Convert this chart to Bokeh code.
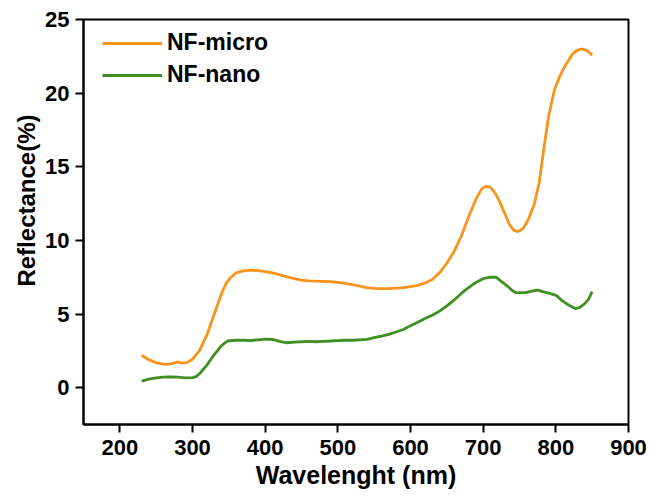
from bokeh.plotting import figure
from bokeh.models import Legend, LegendItem, FixedTicker, Range1d, Title
from bokeh.embed import file_html
from bokeh.resources import INLINE

# ---- data ----
micro_wl = [230, 240, 250, 261, 270, 280, 286, 293, 300, 310, 320, 330, 340, 346, 352, 360,
            370, 380, 390, 400, 410, 420, 430, 440, 450, 460, 470, 480, 490, 500,
            510, 520, 530, 540, 550, 560, 570, 580, 590, 600, 610, 620, 630, 640,
            650, 660, 670, 680, 690, 698, 704, 710, 716, 722, 730, 736, 742, 748,
            755, 762, 770, 777, 784, 790, 798, 805, 811, 817, 823, 829, 835, 843, 850]
micro_val = [2.2, 1.9, 1.7, 1.59, 1.62, 1.75, 1.66, 1.72, 1.93, 2.55, 3.6, 5.0, 6.4, 7.06, 7.45, 7.8,
             7.93, 7.98, 7.95, 7.88, 7.8, 7.67, 7.53, 7.4, 7.3, 7.25, 7.23, 7.22, 7.2, 7.15,
             7.08, 7.0, 6.9, 6.8, 6.74, 6.72, 6.73, 6.76, 6.8, 6.86, 6.95, 7.1, 7.35, 7.8,
             8.45, 9.25, 10.3, 11.6, 12.8, 13.5, 13.68, 13.6, 13.25, 12.7, 11.8, 11.1, 10.7, 10.6,
             10.8, 11.4, 12.4, 13.9, 16.4, 18.4, 20.2, 21.1, 21.7, 22.2, 22.65, 22.9, 23.0, 22.9, 22.58]

nano_wl = [230, 240, 250, 260, 270, 280, 290, 300, 305, 311, 320, 330, 340, 348, 360,
           370, 380, 390, 400, 410, 420, 430, 440, 450, 460, 470, 480, 490, 500,
           510, 520, 530, 540, 550, 560, 570, 580, 590, 600, 610, 620, 630, 640,
           650, 660, 670, 680, 690, 700, 710, 718, 724, 732, 740, 745, 752, 759,
           767, 775, 783, 793, 801, 809, 818, 827, 833, 839, 845, 850]
nano_val = [0.45, 0.58, 0.66, 0.72, 0.73, 0.71, 0.67, 0.68, 0.75, 1.02, 1.55, 2.25, 2.85, 3.17, 3.22,
            3.22, 3.2, 3.25, 3.3, 3.28, 3.15, 3.05, 3.1, 3.12, 3.15, 3.12, 3.15, 3.17, 3.2,
            3.22, 3.22, 3.25, 3.28, 3.4, 3.5, 3.62, 3.78, 3.95, 4.2, 4.45, 4.7, 4.92, 5.2,
            5.55, 5.95, 6.4, 6.8, 7.15, 7.4, 7.5, 7.5, 7.25, 6.95, 6.6, 6.45, 6.45, 6.45,
            6.55, 6.62, 6.5, 6.39, 6.25, 5.89, 5.6, 5.37, 5.45, 5.67, 6.0, 6.52]

x_ticks = [200, 300, 400, 500, 600, 700, 800, 900]
y_ticks = [0, 5, 10, 15, 20, 25]
x_title = "Wavelenght (nm)"
y_title = "Reflectance(%)"
series_names = ["NF-micro", "NF-nano"]

ORANGE = "#F8931C"
GREEN = "#3F8F22"
FONT = "Liberation Sans"

p = figure(width=652, height=498, output_backend="svg", toolbar_location=None,
           x_range=Range1d(150, 900), y_range=Range1d(-2.5, 25),
           min_border_left=83, min_border_right=24, min_border_top=19, min_border_bottom=74)

p.background_fill_color = "white"
p.border_fill_color = "white"
p.outline_line_color = "black"
p.outline_line_width = 2
p.xgrid.visible = False
p.ygrid.visible = False

r1 = p.line(micro_wl, micro_val, line_color=ORANGE, line_width=2.8)
r2 = p.line(nano_wl, nano_val, line_color=GREEN, line_width=2.8)

for ax in (p.xaxis[0], p.yaxis[0]):
    ax.axis_line_width = 2
    ax.axis_line_color = "black"
    ax.major_tick_line_width = 2
    ax.major_tick_line_color = "black"
    ax.major_tick_in = 0
    ax.major_tick_out = 8
    ax.minor_tick_line_color = None
    ax.major_label_text_font = FONT
    ax.major_label_text_font_style = "bold"
    ax.major_label_text_font_size = "22px"
    ax.major_label_text_color = "black"

p.xaxis[0].ticker = FixedTicker(ticks=x_ticks)
p.yaxis[0].ticker = FixedTicker(ticks=y_ticks)
p.xaxis[0].major_label_standoff = 7
p.yaxis[0].major_label_standoff = 6

p.xaxis[0].axis_label = x_title
p.xaxis[0].axis_label_standoff = 3
p.xaxis[0].axis_label_text_font = FONT
p.xaxis[0].axis_label_text_font_style = "bold"
p.xaxis[0].axis_label_text_font_size = "25px"
p.xaxis[0].axis_label_text_color = "black"

ytitle = Title(text=y_title, align="right", offset=95, standoff=6,
               text_font=FONT, text_font_style="bold", text_font_size="24px",
               text_color="black")
p.add_layout(ytitle, "left")

legend = Legend(items=[LegendItem(label=series_names[0], renderers=[r1]),
                       LegendItem(label=series_names[1], renderers=[r2])],
                location=(19, 336), padding=0, spacing=5, margin=0,
                glyph_width=60, glyph_height=24, label_height=24, label_standoff=5,
                label_text_font=FONT, label_text_font_style="bold",
                label_text_font_size="23px", label_text_color="black",
                border_line_color=None, background_fill_alpha=0)
p.add_layout(legend)

open("out.html", "w").write(file_html(p, INLINE))
